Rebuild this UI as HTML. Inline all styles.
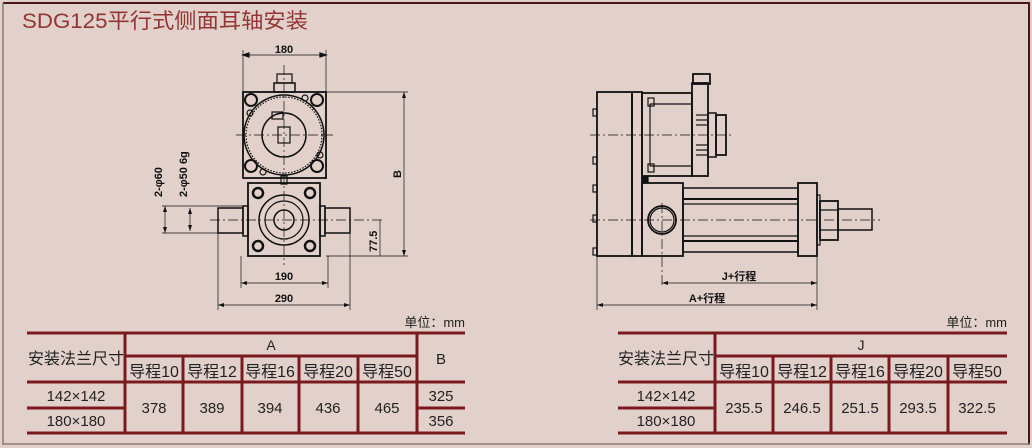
<!DOCTYPE html>
<html><head><meta charset="utf-8"><style>
html,body{margin:0;padding:0;background:#e2d1cb;}
svg{display:block;font-family:"Liberation Sans","Noto Sans CJK SC",sans-serif;}
</style></head><body>
<svg width="1032" height="448" viewBox="0 0 1032 448" xmlns="http://www.w3.org/2000/svg">
<rect x="0" y="0" width="1032" height="448" fill="#e2d1cb"/>
<line x1="3" y1="3" x2="1030" y2="3" stroke="#4a1518" stroke-width="2"/>
<line x1="3" y1="3" x2="3" y2="445" stroke="#8a7a78" stroke-width="1.5"/>
<line x1="1029" y1="3" x2="1029" y2="445" stroke="#4a1518" stroke-width="2"/>
<line x1="3" y1="444" x2="1030" y2="444" stroke="#8a7a78" stroke-width="1.5"/>
<text x="22" y="28" font-size="21" fill="#933535" textLength="286" lengthAdjust="spacingAndGlyphs">SDG125平行式侧面耳轴安装</text>

<g stroke="#111" fill="none" stroke-width="1.2">
<line x1="243" y1="50" x2="243" y2="92" stroke-width="0.7"/><line x1="326" y1="50" x2="326" y2="92" stroke-width="0.7"/>
<line x1="243" y1="55" x2="326" y2="55" stroke-width="0.7"/>
<path d="M243 55l6-2v4zM326 55l-6-2v4z" fill="#111"/>
<rect x="274" y="83" width="21" height="9" stroke-width="1.5"/>
<rect x="277" y="74" width="15" height="9"/>
<rect x="243" y="92" width="83" height="86" stroke-width="1.8"/>
<circle cx="284" cy="135" r="40" stroke-width="1.5"/>
<circle cx="284" cy="135" r="38" stroke-dasharray="1.5 1.5"/>
<circle cx="284" cy="135" r="22" stroke-width="1.5"/>
<rect x="278" y="127" width="12" height="16"/>
<rect x="272" y="112" width="11" height="7"/>
<g stroke-width="2">
<circle cx="251" cy="100" r="6"/><circle cx="317" cy="100" r="6"/>
<circle cx="251" cy="166" r="6"/><circle cx="317" cy="166" r="6"/></g>
<circle cx="250" cy="113" r="3"/><circle cx="320" cy="155" r="3"/><circle cx="263" cy="172" r="3"/><circle cx="305" cy="98" r="3"/>
<rect x="281" y="176" width="6" height="8"/>
<rect x="248" y="183" width="72" height="73" stroke-width="1.8"/>
<rect x="243" y="206" width="5" height="30" stroke-width="1.5"/><rect x="320" y="206" width="5" height="30" stroke-width="1.5"/>
<rect x="218" y="208" width="25" height="25" stroke-width="1.5"/><rect x="325" y="208" width="25" height="25" stroke-width="1.5"/>
<circle cx="284" cy="220" r="25" stroke-width="1.5"/><circle cx="284" cy="220" r="19"/><circle cx="284" cy="220" r="10" stroke-width="1.5"/>
<g stroke-width="2.5">
<circle cx="258" cy="193" r="5"/><circle cx="310" cy="193" r="5"/>
<circle cx="258" cy="246" r="5"/><circle cx="310" cy="246" r="5"/></g>
<g stroke-width="0.7" stroke-dasharray="10 3 2 3">
<line x1="284" y1="65" x2="284" y2="265"/><line x1="236" y1="135" x2="333" y2="135"/><line x1="210" y1="220" x2="382" y2="220"/>
</g>
<g stroke-width="0.7">
<line x1="162" y1="206" x2="243" y2="206"/><line x1="162" y1="233" x2="243" y2="233"/>
<line x1="165" y1="206" x2="165" y2="233"/><line x1="190" y1="208" x2="190" y2="231"/>
<line x1="218" y1="233" x2="218" y2="310"/><line x1="350" y1="233" x2="350" y2="310"/>
<line x1="241" y1="256" x2="241" y2="288"/><line x1="328" y1="256" x2="328" y2="288"/>
<line x1="241" y1="283" x2="328" y2="283"/><line x1="218" y1="305" x2="350" y2="305"/>
<line x1="326" y1="92" x2="408" y2="92"/><line x1="326" y1="256" x2="408" y2="256"/>
<line x1="404" y1="92" x2="404" y2="256"/><line x1="380" y1="220" x2="380" y2="256"/>
</g>
<g fill="#111" stroke="none">
<path d="M241 283l6-2v4zM328 283l-6-2v4zM218 305l6-2v4zM350 305l-6-2v4zM404 92l-2 6h4zM404 256l-2-6h4zM165 206l-2 6h4zM165 233l-2-6h4zM190 208l-2 6h4zM190 231l-2-6h4z"/>
</g>

<rect x="597" y="92" width="35" height="164" stroke-width="1.8"/>
<rect x="632" y="92" width="10" height="164" stroke-width="1.8"/>
<g stroke-width="1.2"><rect x="593" y="109" width="4" height="7"/><rect x="593" y="157" width="4" height="7"/><rect x="593" y="185" width="4" height="7"/><rect x="593" y="215" width="4" height="7"/><rect x="593" y="248" width="4" height="7"/></g>
<rect x="642" y="93" width="50" height="83" stroke-width="1.8"/>
<line x1="650" y1="104" x2="692" y2="104"/><line x1="650" y1="166" x2="692" y2="166"/>
<line x1="650" y1="104" x2="650" y2="166"/>
<rect x="648" y="98" width="6" height="8"/><rect x="648" y="164" width="6" height="8"/>
<rect x="692" y="83" width="16" height="93" stroke-width="1.8"/>
<rect x="693" y="74" width="17" height="10" stroke-width="1.8"/>
<rect x="708" y="113" width="8" height="44" stroke-width="1.5"/><rect x="716" y="115" width="10" height="40" stroke-width="1.8"/>
<line x1="696" y1="115" x2="708" y2="115"/><line x1="696" y1="120" x2="708" y2="120"/><line x1="696" y1="125" x2="708" y2="125"/><line x1="696" y1="145" x2="708" y2="145"/><line x1="696" y1="150" x2="708" y2="150"/><line x1="696" y1="155" x2="708" y2="155"/>
<rect x="642" y="176" width="6" height="7" fill="#111"/>
<rect x="642" y="183" width="41" height="73" stroke-width="1.8"/>
<circle cx="662" cy="220" r="14" stroke-width="1.8"/><circle cx="662" cy="220" r="12"/>
<rect x="683" y="188" width="115" height="64" stroke-width="1.5"/>
<line x1="683" y1="199" x2="798" y2="199" stroke-width="2"/><line x1="683" y1="241" x2="798" y2="241" stroke-width="2"/>
<line x1="683" y1="204" x2="798" y2="204"/><line x1="683" y1="236" x2="798" y2="236"/>
<rect x="798" y="183" width="19" height="73" stroke-width="1.8"/>
<rect x="817" y="195" width="3" height="50"/>
<rect x="820" y="201" width="18" height="39" stroke-width="1.8"/>
<line x1="820" y1="210" x2="838" y2="210"/><line x1="820" y1="230" x2="838" y2="230"/>
<rect x="838" y="209" width="34" height="21" stroke-width="1.5"/>
<g stroke-width="0.7" stroke-dasharray="10 3 2 3">
<line x1="590" y1="135" x2="733" y2="135"/><line x1="590" y1="220" x2="880" y2="220"/><line x1="662" y1="203" x2="662" y2="287"/>
</g>
<g stroke-width="0.7">
<line x1="597" y1="256" x2="597" y2="310"/><line x1="817" y1="256" x2="817" y2="310"/>
<line x1="662" y1="283" x2="817" y2="283"/><line x1="597" y1="305" x2="817" y2="305"/>
</g>
<path d="M662 283l6-2v4zM817 283l-6-2v4zM597 305l6-2v4zM817 305l-6-2v4z" fill="#111" stroke="none"/>
</g>

<g fill="#111" font-size="11" font-weight="bold">
<text x="284" y="53" text-anchor="middle">180</text>
<text x="284" y="280" text-anchor="middle">190</text>
<text x="284" y="302" text-anchor="middle">290</text>
<text transform="translate(162,197) rotate(-90)">2-φ60</text>
<text transform="translate(187,197) rotate(-90)">2-φ50 6g</text>
<text transform="translate(401,178) rotate(-90)">B</text>
<text transform="translate(377,252) rotate(-90)">77.5</text>
<text x="739" y="280" text-anchor="middle">J+行程</text>
<text x="707" y="302" text-anchor="middle">A+行程</text>
</g>

<g font-size="15" fill="#222" text-anchor="middle">
<text x="465" y="327" text-anchor="end" font-size="13">单位：mm</text>
<text x="1007" y="327" text-anchor="end" font-size="13">单位：mm</text>
<g stroke="#7a1a1e" stroke-width="3">
<line x1="27" y1="333" x2="465" y2="333"/><line x1="125" y1="356" x2="417" y2="356"/>
<line x1="27" y1="382" x2="465" y2="382"/><line x1="27" y1="408" x2="125" y2="408"/><line x1="417" y1="408" x2="465" y2="408"/>
<line x1="27" y1="433" x2="465" y2="433"/>
<line x1="125" y1="333" x2="125" y2="433"/><line x1="417" y1="333" x2="417" y2="433"/>
<line x1="183" y1="356" x2="183" y2="433"/><line x1="242" y1="356" x2="242" y2="433"/><line x1="299" y1="356" x2="299" y2="433"/><line x1="358" y1="356" x2="358" y2="433"/>
<line x1="618" y1="333" x2="1007" y2="333"/><line x1="715" y1="356" x2="1007" y2="356"/>
<line x1="618" y1="382" x2="1007" y2="382"/><line x1="618" y1="408" x2="715" y2="408"/>
<line x1="618" y1="433" x2="1007" y2="433"/>
<line x1="715" y1="333" x2="715" y2="433"/>
<line x1="773" y1="356" x2="773" y2="433"/><line x1="831" y1="356" x2="831" y2="433"/><line x1="889" y1="356" x2="889" y2="433"/><line x1="948" y1="356" x2="948" y2="433"/>
</g>
<text x="76" y="364" font-size="16">安装法兰尺寸</text>
<text x="271" y="350" font-size="14">A</text><text x="441" y="364">B</text>
<g font-size="16">
<text x="154" y="377">导程10</text><text x="212" y="377">导程12</text><text x="270" y="377">导程16</text><text x="328" y="377">导程20</text><text x="387" y="377">导程50</text>
<text x="744" y="377">导程10</text><text x="802" y="377">导程12</text><text x="860" y="377">导程16</text><text x="918" y="377">导程20</text><text x="977" y="377">导程50</text>
<text x="666" y="364">安装法兰尺寸</text>
</g>
<text x="76" y="401">142×142</text><text x="76" y="426">180×180</text>
<text x="154" y="413">378</text><text x="212" y="413">389</text><text x="270" y="413">394</text><text x="328" y="413">436</text><text x="387" y="413">465</text>
<text x="441" y="401">325</text><text x="441" y="426">356</text>
<text x="861" y="350" font-size="14">J</text>
<text x="666" y="401">142×142</text><text x="666" y="426">180×180</text>
<text x="744" y="413">235.5</text><text x="802" y="413">246.5</text><text x="860" y="413">251.5</text><text x="918" y="413">293.5</text><text x="977" y="413">322.5</text>
</g>
</svg>
</body></html>
